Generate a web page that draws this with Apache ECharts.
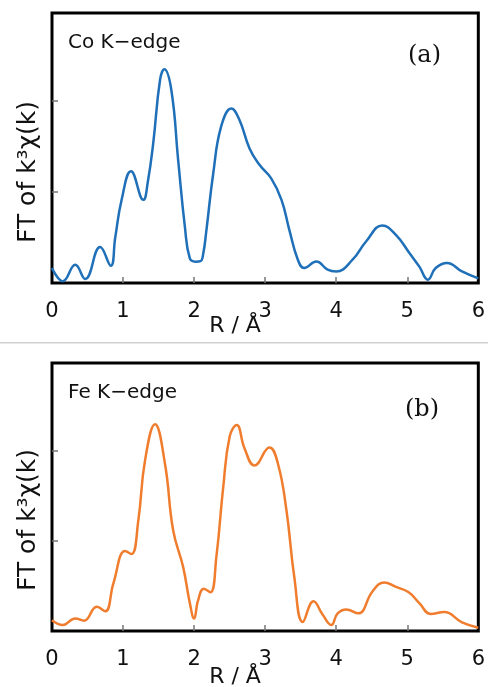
<!DOCTYPE html>
<html>
<head>
<meta charset="utf-8">
<script src="https://cdn.jsdelivr.net/npm/echarts@6/dist/echarts.min.js"></script>
<style>
  html, body { margin: 0; padding: 0; background: #fff; }
  #chart { width: 488px; height: 687px; }
</style>
</head>
<body>
<div id="chart"></div>
<script>
// Co K-edge (a): [R, FT]
var coR = [0, 0.154, 0.327, 0.467, 0.677, 0.827, 0.89, 0.98, 1.112, 1.285, 1.35, 1.425, 1.52, 1.58, 1.68, 1.776, 1.87, 1.94, 2.02, 2.09, 2.13, 2.17, 2.27, 2.38, 2.525, 2.64, 2.78, 2.92, 3.085, 3.23, 3.34, 3.46, 3.55, 3.72, 3.88, 4.0, 4.23, 4.42, 4.65, 4.84, 5.03, 5.17, 5.29, 5.40, 5.56, 5.77, 6.0];
var coFT = [0.165, 0.02, 0.20, 0.044, 0.395, 0.19, 0.5, 0.915, 1.23, 0.915, 1.12, 1.54, 2.23, 2.35, 2.12, 1.35, 0.62, 0.27, 0.235, 0.24, 0.33, 0.56, 1.21, 1.72, 1.92, 1.79, 1.48, 1.30, 1.15, 0.915, 0.585, 0.256, 0.165, 0.237, 0.146, 0.127, 0.256, 0.457, 0.633, 0.53, 0.33, 0.18, 0.036, 0.165, 0.22, 0.127, 0.05];

// Fe K-edge (b): [R, FT]
var feR = [0, 0.154, 0.327, 0.453, 0.63, 0.75, 0.864, 1.03, 1.12, 1.215, 1.31, 1.45, 1.59, 1.705, 1.846, 1.94, 2.0, 2.056, 2.136, 2.23, 2.314, 2.41, 2.50, 2.60, 2.71, 2.85, 3.06, 3.18, 3.30, 3.41, 3.53, 3.68, 3.81, 3.93, 4.02, 4.14, 4.31, 4.51, 4.675, 4.84, 5.02, 5.17, 5.33, 5.52, 5.77, 6.0];
var feFT = [0.12, 0.067, 0.14, 0.115, 0.27, 0.22, 0.53, 0.89, 0.855, 1.23, 1.9, 2.3, 1.86, 1.12, 0.71, 0.31, 0.14, 0.34, 0.47, 0.43, 0.83, 1.6, 2.16, 2.29, 2.03, 1.84, 2.04, 1.86, 1.34, 0.60, 0.10, 0.33, 0.18, 0.067, 0.196, 0.24, 0.196, 0.44, 0.54, 0.49, 0.43, 0.31, 0.19, 0.21, 0.097, 0.037];

var xTicks = [0, 1, 2, 3, 4, 5, 6];
var xInnerTicks = [1, 2, 3, 4, 5];
var yInnerTicks = [1, 2];

function pairs(xs, ys) {
    var out = [];
    for (var i = 0; i < xs.length; i++) out.push([xs[i], ys[i]]);
    return out;
}

var sans = '"DejaVu Sans", sans-serif';
var serif = '"DejaVu Serif", serif';

function xAxis(idx) {
    return {
        type: 'value', gridIndex: idx, min: xTicks[0], max: xTicks[xTicks.length - 1], interval: 1,
        axisLine: { show: false },
        axisTick: { inside: true, length: 6, customValues: xInnerTicks, lineStyle: { color: '#777', width: 1.5 } },
        axisLabel: { margin: 18, fontSize: 21, color: '#111', fontFamily: sans,
            formatter: function (v) { return xTicks.indexOf(v) >= 0 ? String(v) : ''; } },
        splitLine: { show: false }
    };
}
function yAxis(idx, max) {
    return {
        type: 'value', gridIndex: idx, min: 0, max: max, interval: 1,
        axisLine: { show: false },
        axisTick: { inside: true, length: 6, customValues: yInnerTicks, lineStyle: { color: '#777', width: 1.5 } },
        axisLabel: { show: false },
        splitLine: { show: false }
    };
}

var chart = echarts.init(document.getElementById('chart'));
chart.setOption({
    animation: false,
    grid: [
        { left: 52, top: 13, width: 428, height: 270, show: true, borderColor: '#000', borderWidth: 3, backgroundColor: 'transparent' },
        { left: 52, top: 363, width: 428, height: 268, show: true, borderColor: '#000', borderWidth: 3, backgroundColor: 'transparent' }
    ],
    xAxis: [xAxis(0), xAxis(1)],
    yAxis: [yAxis(0, 2.97), yAxis(1, 2.98)],
    series: [
        { type: 'line', xAxisIndex: 0, yAxisIndex: 0, data: pairs(coR, coFT), smooth: 0.45, showSymbol: false,
          lineStyle: { color: '#1f70b8', width: 2.5 } },
        { type: 'line', xAxisIndex: 1, yAxisIndex: 1, data: pairs(feR, feFT), smooth: 0.45, showSymbol: false,
          lineStyle: { color: '#f07d2e', width: 2.5 } }
    ],
    graphic: [
        { type: 'rect', shape: { x: 0, y: 342, width: 488, height: 1.5 }, style: { fill: '#d0d0d0' } },
        { type: 'text', x: 68, y: 43, style: { text: 'Co K\u2212edge', font: '20px ' + sans, fill: '#111', verticalAlign: 'middle' } },
        { type: 'text', x: 408, y: 56, style: { text: '(a)', font: '24px ' + serif, fill: '#111', verticalAlign: 'middle' } },
        { type: 'text', x: 68, y: 393, style: { text: 'Fe K\u2212edge', font: '20px ' + sans, fill: '#111', verticalAlign: 'middle' } },
        { type: 'text', x: 405, y: 410, style: { text: '(b)', font: '24px ' + serif, fill: '#111', verticalAlign: 'middle' } },
        { type: 'text', x: 235, y: 326, style: { text: 'R / Å', font: '22px ' + sans, fill: '#111', align: 'center', verticalAlign: 'middle' } },
        { type: 'text', x: 235, y: 677, style: { text: 'R / Å', font: '22px ' + sans, fill: '#111', align: 'center', verticalAlign: 'middle' } },
        { type: 'text', x: 28, y: 172, rotation: Math.PI / 2, style: { text: 'FT of k³χ(k)', font: '25px ' + sans, fill: '#111', align: 'center', verticalAlign: 'middle' } },
        { type: 'text', x: 28, y: 520, rotation: Math.PI / 2, style: { text: 'FT of k³χ(k)', font: '25px ' + sans, fill: '#111', align: 'center', verticalAlign: 'middle' } }
    ]
});
</script>
</body>
</html>
